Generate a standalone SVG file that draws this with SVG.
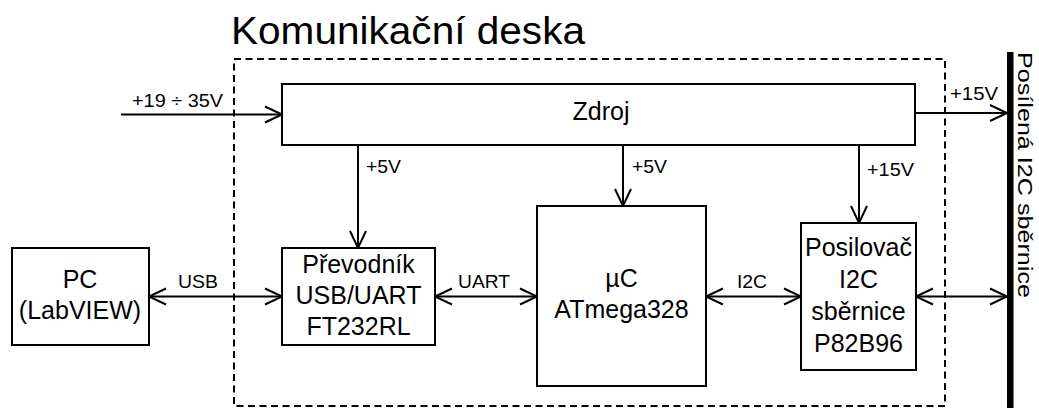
<svg xmlns="http://www.w3.org/2000/svg" width="1039" height="408" viewBox="0 0 1039 408">
<style>
  text { font-family: "Liberation Sans", Arial, sans-serif; fill: #000; }
  .box { fill: #fff; stroke: #000; stroke-width: 2; }
  .bt { font-size: 25px; text-anchor: middle; }
  .lb { font-size: 19px; }
  .con { fill: none; stroke: #000; stroke-width: 2; }
  .dash { fill: none; stroke: #000; stroke-width: 2; stroke-dasharray: 7 4.5; }
</style>
<defs>
  <marker id="arr" markerUnits="userSpaceOnUse" markerWidth="24" markerHeight="24" viewBox="-20 -12 24 24" refX="0" refY="0" orient="auto-start-reverse">
    <path d="M-17,-8 L0,0 L-17,8" fill="none" stroke="#000" stroke-width="2"/>
  </marker>
</defs>
<rect width="1039" height="408" fill="#fff"/>

<g id="board">
  <rect class="dash" x="234" y="59" width="711" height="347"/>
  <text x="231" y="44" font-size="38" textLength="354" lengthAdjust="spacingAndGlyphs">Komunikační deska</text>
</g>

<g id="bus">
  <rect x="1007" y="52" width="6.5" height="360" fill="#000"/>
  <text transform="translate(1018,52) rotate(90)" x="0" y="0" font-size="21" textLength="246" lengthAdjust="spacingAndGlyphs">Posílená I2C sběrnice</text>
</g>

<g id="connectors">
  <path class="con" d="M121,114.5 H282" marker-end="url(#arr)"/>
  <path class="con" d="M915,113 H1007" marker-end="url(#arr)"/>
  <path class="con" d="M358,145 V248" marker-end="url(#arr)"/>
  <path class="con" d="M623,145 V206" marker-end="url(#arr)"/>
  <path class="con" d="M859,145 V223" marker-end="url(#arr)"/>
  <path class="con" d="M149,296.5 H282" marker-start="url(#arr)" marker-end="url(#arr)"/>
  <path class="con" d="M435,296.5 H537" marker-start="url(#arr)" marker-end="url(#arr)"/>
  <path class="con" d="M706,296.5 H801" marker-start="url(#arr)" marker-end="url(#arr)"/>
  <path class="con" d="M916,296.5 H1007" marker-start="url(#arr)" marker-end="url(#arr)"/>
  <text class="lb" x="132" y="107" textLength="91" lengthAdjust="spacingAndGlyphs">+19 ÷ 35V</text>
  <text class="lb" x="950" y="100" textLength="48" lengthAdjust="spacingAndGlyphs">+15V</text>
  <text class="lb" x="366" y="173" textLength="35" lengthAdjust="spacingAndGlyphs">+5V</text>
  <text class="lb" x="632" y="173" textLength="35" lengthAdjust="spacingAndGlyphs">+5V</text>
  <text class="lb" x="867" y="176" textLength="47" lengthAdjust="spacingAndGlyphs">+15V</text>
  <text class="lb" x="178" y="288" textLength="40" lengthAdjust="spacingAndGlyphs">USB</text>
  <text class="lb" x="458" y="288" textLength="52" lengthAdjust="spacingAndGlyphs">UART</text>
  <text class="lb" x="737" y="288" textLength="30" lengthAdjust="spacingAndGlyphs">I2C</text>
</g>

<g id="zdroj">
  <rect class="box" x="282" y="84" width="633" height="61"/>
  <text class="bt" x="601" y="120">Zdroj</text>
</g>

<g id="pc">
  <rect class="box" x="12" y="248" width="137" height="97"/>
  <text class="bt" x="80" y="288">PC</text>
  <text class="bt" x="80" y="319">(LabVIEW)</text>
</g>

<g id="prevodnik">
  <rect class="box" x="282" y="248" width="153" height="97"/>
  <text class="bt" x="358.5" y="273">Převodník</text>
  <text class="bt" x="358.5" y="304">USB/UART</text>
  <text class="bt" x="358.5" y="335">FT232RL</text>
</g>

<g id="uc">
  <rect class="box" x="537" y="206" width="169" height="180"/>
  <text class="bt" x="621.5" y="287">µC</text>
  <text class="bt" x="621.5" y="318">ATmega328</text>
</g>

<g id="posilovac">
  <rect class="box" x="801" y="223" width="115" height="147"/>
  <text class="bt" x="858.5" y="256">Posilovač</text>
  <text class="bt" x="858.5" y="288">I2C</text>
  <text class="bt" x="858.5" y="320">sběrnice</text>
  <text class="bt" x="858.5" y="352">P82B96</text>
</g>
</svg>
